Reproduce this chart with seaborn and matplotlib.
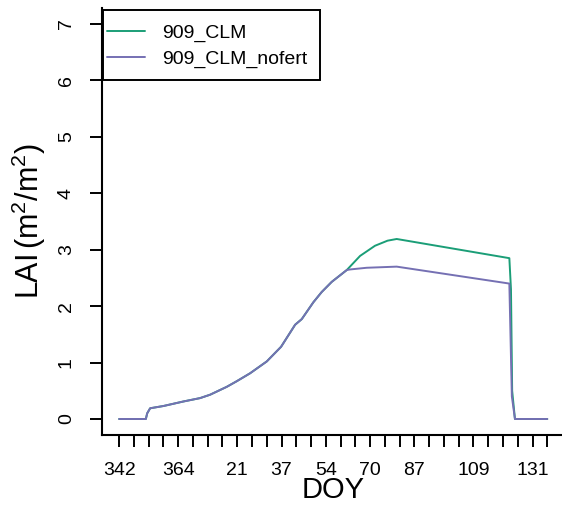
import numpy as np
import pandas as pd
import matplotlib
matplotlib.use("Agg")
import matplotlib.pyplot as plt
from matplotlib.patches import Rectangle
import seaborn as sns

# ---- data (x in time-step index units, one unit per axis tick) ----
shared_x = [0, 1.81, 1.9, 2.1, 3.0, 4.35, 5.48, 6.16, 7.29, 7.97, 8.87, 10.0,
            10.97, 11.92, 12.37, 13.16, 13.72, 14.4, 15.42]
shared_y = [0, 0, 0.1, 0.19, 0.23, 0.31, 0.37, 0.43, 0.57, 0.67, 0.81, 1.02,
            1.28, 1.67, 1.77, 2.07, 2.25, 2.43, 2.64]

clm_x = shared_x + [16.32, 17.33, 18.18, 18.8, 26.43, 26.54, 26.62, 26.81, 29.0]
clm_y = shared_y + [2.89, 3.07, 3.16, 3.19, 2.85, 2.3, 0.5, 0.0, 0.0]

nofert_x = shared_x + [15.64, 16.77, 18.8, 26.43, 26.6, 26.81, 29.0]
nofert_y = shared_y + [2.65, 2.68, 2.70, 2.40, 0.4, 0.0, 0.0]

series_names = ["909_CLM", "909_CLM_nofert"]
series_colors = ["#1B9E77", "#7570B3"]

n_ticks = 30
label_idx = [0, 4, 8, 11, 14, 17, 20, 24, 28]
doy_labels = ["342", "364", "21", "37", "54", "70", "87", "109", "131"]
y_ticks = [0, 1, 2, 3, 4, 5, 6, 7]

df = pd.concat([
    pd.DataFrame({"x": clm_x, "LAI": clm_y, "run": series_names[0]}),
    pd.DataFrame({"x": nofert_x, "LAI": nofert_y, "run": series_names[1]}),
], ignore_index=True)

sns.set_style("ticks")
plt.rcParams["font.family"] = ["Liberation Sans", "DejaVu Sans"]
plt.rcParams["mathtext.fontset"] = "custom"
plt.rcParams["mathtext.rm"] = "Liberation Sans"
plt.rcParams["mathtext.it"] = "Liberation Sans:italic"
for k in ["text.color", "axes.labelcolor", "xtick.color", "ytick.color",
          "xtick.labelcolor", "ytick.labelcolor", "axes.edgecolor"]:
    plt.rcParams[k] = "black"

W, H = 562, 509
fig = plt.figure(figsize=(W / 100, H / 100), dpi=100)
ax = fig.add_axes([0.1815, 0.1458, 0.8228, 0.8381])

sns.lineplot(data=df, x="x", y="LAI", hue="run", hue_order=series_names,
             palette=series_colors, estimator=None, sort=False,
             linewidth=1.4, ax=ax)

ax.set_xlim(-1.16, 30.16)
ax.set_ylim(-0.28, 7.28)

ax.set_xticks(range(n_ticks))
xt_labels = [""] * n_ticks
for i, lab in zip(label_idx, doy_labels):
    xt_labels[i] = lab
ax.set_xticklabels(xt_labels)
ax.set_yticks(y_ticks)
ax.set_yticklabels([str(v) for v in y_ticks], rotation=90, va="center")

ax.tick_params(axis="both", length=8.5, width=1.4, pad=11, labelsize=14,
               colors="black", labelcolor="black", direction="out")

for s in ["top", "right"]:
    ax.spines[s].set_visible(False)
for s in ["left", "bottom"]:
    ax.spines[s].set_linewidth(1.5)
    ax.spines[s].set_color("black")

ax.set_xlabel("DOY", fontsize=21, color="black")
ax.xaxis.set_label_coords(0.5, -0.097)
ax.set_ylabel(r"LAI$\,(\mathrm{m}^2/\mathrm{m}^2)$", fontsize=22, color="black")
ax.yaxis.set_label_coords(-0.117, 0.5)

# legend box drawn as a plain rectangle, entries placed inside it
box = Rectangle((103 / W, 1 - 80 / H), 217 / W, 70 / H, transform=fig.transFigure,
                facecolor="white", edgecolor="black", linewidth=1.4,
                zorder=4, clip_on=False)
ax.add_patch(box)

handles, labels = ax.get_legend_handles_labels()
leg = ax.legend(handles, labels, loc="upper left",
                bbox_to_anchor=(107 / W, 1 - 24 / H),
                bbox_transform=fig.transFigure,
                borderaxespad=0, fontsize=14, frameon=False, borderpad=0,
                labelspacing=0.42, handlelength=1.96, handletextpad=0.86)
leg.set_zorder(6)
for line in leg.get_lines():
    line.set_linewidth(1.4)

fig.savefig("out.png", dpi=100)
